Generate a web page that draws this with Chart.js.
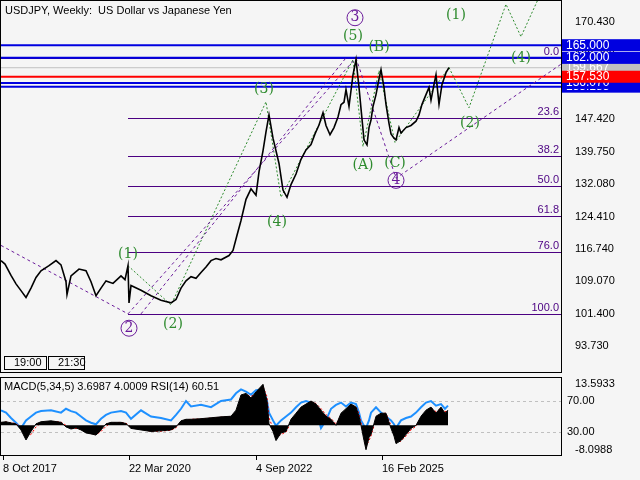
<!DOCTYPE html>
<html><head><meta charset="utf-8">
<script src="https://cdn.jsdelivr.net/npm/chart.js@4"></script>
<style>
html,body{margin:0;padding:0;background:#f5f5f5;width:640px;height:480px;overflow:hidden}
#c1{position:absolute;left:0;top:0}
#c2{position:absolute;left:0;top:374px}
</style></head><body>
<canvas id="c1" width="640" height="374"></canvas>
<canvas id="c2" width="640" height="106"></canvas>
<script>
// week index and weekly close (approx) of USDJPY
const weeks  = [0,4,10,15,20,25,30,35,40,48,55,60,65,66,70,78,85,90,95,100,105,112,120,124,127,128,130,140,150,160,170,175,180,185,190,195,200,205,210,215,220,228,232,236,240,245,250,255,258,262,265,268,272,278,282,286,290,295,300,305,310,314,318,322,325,329,333,337,340,343,345,348,352,355,358,360,363,366,368,370,372,375,378,380,383,385,388,390,393,395,398,400,405,410,415,418,421,425,428,430,433,435,438,441,445,448];
const closes = [114.0,113.2,110.5,108.5,106.9,105.3,107.5,110.0,111.6,112.8,114.0,113.0,109.0,106.0,110.4,112.0,111.6,109.0,105.7,107.5,109.2,108.6,110.4,109.5,112.8,104.0,108.1,107.0,105.7,104.6,104.0,104.8,107.5,109.2,110.2,109.8,111.2,112.5,114.0,114.5,114.2,115.2,116.4,120.0,123.5,128.5,131.0,129.5,135.0,140.0,144.5,148.5,143.0,137.0,130.7,129.0,132.0,134.5,138.0,140.2,141.5,144.0,146.1,149.0,146.0,143.8,145.5,148.0,150.9,151.5,154.5,150.5,158.0,161.6,155.0,150.0,142.6,141.4,145.5,147.3,150.5,153.3,157.0,159.2,155.0,151.0,146.5,144.0,143.0,142.6,145.5,144.2,145.5,146.0,147.0,148.5,151.0,153.3,155.0,152.0,155.7,158.0,151.0,155.7,158.5,159.7];
// projected path (green dotted)
const projWeeks = [448,468,505,520,545];
const projPrices = [159.7,150.2,174.7,167.0,180.0];
// levels
const levelPrices = [155.185,156.070,157.530,159.667,162.000,165.000];
const levelColors = ['#0000e0','#0000e0','#ff0000','#c0c0c0','#0000e0','#0000e0'];
const fibPct = ['0.0','23.6','38.2','50.0','61.8','76.0','100.0'];
const fibPrices = [162.0,147.7,138.85,131.7,124.55,116.0,101.4];
const yTicks = [170.43,162.76,155.09,147.42,139.75,132.08,124.41,116.74,109.07,101.4,93.73];
const dateLabels = ['8 Oct 2017','22 Mar 2020','4 Sep 2022','16 Feb 2025'];
const dateWeeks = [2,128,255,381];
// MACD / RSI
const oscWeeks = [0,5,10,15,20,25,30,35,40,50,60,65,70,75,80,85,90,95,100,105,110,120,125,130,140,150,160,170,175,180,185,190,200,210,220,230,235,240,245,250,255,262,266,268,272,275,280,285,290,295,300,305,310,315,320,325,330,335,340,345,350,355,358,360,363,365,368,370,375,380,385,390,393,395,400,405,410,415,420,425,430,435,440,444,447];
const macd = [1.0,1.2,0.8,0.5,-1.5,-4.8,-2.0,0.5,1.2,1.5,1.0,-0.5,-1.2,-0.8,-1.5,-2.5,-2.8,-3.2,-1.5,0.5,1.0,1.0,0.6,-1.0,-1.5,-2.0,-1.8,-1.5,-0.5,1.5,2.0,2.0,2.2,2.5,2.8,3.0,5.0,10.0,10.5,9.0,11.0,13.5,8.0,0.5,-2.0,-5.0,-2.5,-2.0,2.0,4.0,6.0,7.0,8.0,7.0,5.0,3.0,2.0,0.0,4.0,5.5,7.0,6.0,3.0,0.0,-5.0,-8.0,-4.0,-3.0,3.0,4.0,4.0,-1.0,-3.5,-6.0,-5.0,-3.0,-1.0,0.0,3.0,5.0,6.0,4.0,6.0,4.0,5.0];
const signal = [0.8,1.1,0.9,0.6,-0.8,-3.5,-3.0,-0.5,0.8,1.3,1.1,0.0,-1.0,-1.0,-1.3,-2.2,-2.7,-3.0,-2.0,-0.3,0.8,1.0,0.7,-0.5,-1.3,-1.9,-1.9,-1.6,-0.8,1.0,1.8,2.0,2.1,2.4,2.7,2.9,4.2,8.5,10.2,9.5,10.5,12.8,9.5,2.5,-1.0,-4.0,-3.0,-2.2,1.0,3.5,5.5,6.8,7.8,7.2,5.5,3.5,2.3,0.5,3.2,5.0,6.5,6.2,3.8,1.0,-3.5,-7.0,-5.0,-3.5,2.0,3.8,4.0,0.0,-2.8,-5.5,-5.2,-3.5,-1.5,-0.3,2.5,4.5,5.8,4.5,5.5,4.5,4.8];
const rsi = [58,55,48,42,35,45,50,55,57,58,55,60,57,55,50,45,42,40,47,52,55,57,55,47,58,50,48,45,52,60,70,63,65,62,70,72,80,85,82,78,84,85,70,55,45,38,45,50,55,62,68,70,68,60,35,45,60,65,68,63,68,66,55,45,38,35,45,55,62,55,50,45,40,35,45,48,50,55,62,68,70,64,66,60,64];

const waveMarks = [
 {t:'(1)',w:127,p:115.5,c:'#2e8b2e'},{t:'(2)',w:172,p:99.0,c:'#2e8b2e'},{t:'(3)',w:263,p:154.5,c:'#2e8b2e'},
 {t:'(4)',w:276,p:123.0,c:'#2e8b2e'},{t:'(5)',w:352,p:167.0,c:'#2e8b2e'},{t:'(A)',w:362,p:136.5,c:'#2e8b2e'},
 {t:'(B)',w:378,p:164.5,c:'#2e8b2e'},{t:'(C)',w:394,p:137.0,c:'#2e8b2e'},{t:'(1)',w:455,p:172.0,c:'#2e8b2e'},
 {t:'(2)',w:469,p:146.5,c:'#2e8b2e'},{t:'(4)',w:520,p:162.0,c:'#2e8b2e'},
 {t:'3',w:354,p:171.5,c:'#6a1b9a',circ:true},{t:'2',w:128,p:98.0,c:'#6a1b9a',circ:true},{t:'4',w:395,p:133.0,c:'#6a1b9a',circ:true}
];
const P = (ws,ps)=>ws.map((w,i)=>({x:w,y:ps[i]}));
const FONT = '11px "Liberation Sans", "DejaVu Sans", sans-serif';
const noPad = s=>{s.width=79;s.paddingTop=0;s.paddingBottom=0;};

const overlay = {
 id:'ov',
 beforeDatasetsDraw(ch){
  const {ctx,chartArea:a,scales:{x,y}}=ch;
  ctx.save();
  ctx.beginPath();ctx.rect(a.left,a.top,a.right-a.left,a.bottom-a.top);ctx.clip();
  fibPrices.forEach((p,i)=>{
   ctx.strokeStyle='#4b0082';ctx.lineWidth=1;ctx.beginPath();
   const x0 = i===0? a.left : x.getPixelForValue(127);
   const py=Math.round(y.getPixelForValue(p))+0.5;
   ctx.moveTo(x0,py);ctx.lineTo(a.right,py);ctx.stroke();
   ctx.fillStyle='#4b0082';ctx.font=FONT;ctx.textAlign='right';ctx.textBaseline='bottom';
   ctx.fillText(fibPct[i],a.right-2,py-1);
  });
  levelPrices.forEach((p,i)=>{
   ctx.strokeStyle=levelColors[i];ctx.lineWidth=i===3?1:2;ctx.beginPath();
   const py=y.getPixelForValue(p);ctx.moveTo(a.left,py);ctx.lineTo(a.right,py);ctx.stroke();
  });
  ctx.restore();
 },
 afterDatasetsDraw(ch){
  const {ctx,chartArea:a,scales:{x,y}}=ch;
  ctx.save();
  ctx.beginPath();ctx.rect(a.left,a.top,a.right-a.left,a.bottom-a.top);ctx.clip();
  ctx.font='14px "DejaVu Serif", serif';ctx.textAlign='center';ctx.textBaseline='middle';
  waveMarks.forEach(m=>{
   const px=x.getPixelForValue(m.w),py=y.getPixelForValue(m.p);
   if(m.circ){ctx.strokeStyle=m.c;ctx.lineWidth=1;ctx.beginPath();ctx.arc(px,py,8,0,Math.PI*2);ctx.stroke();}
   ctx.fillStyle=m.c;ctx.fillText(m.t,px,py);
  });
  ctx.restore();
  ctx.save();
  ctx.strokeStyle='#000';ctx.lineWidth=1;ctx.strokeRect(a.left-0.5,a.top+0.5,a.right-a.left+1,a.bottom-a.top-1);
  ctx.font=FONT;ctx.fillStyle='#000';ctx.textAlign='left';ctx.textBaseline='top';
  ctx.fillText('USDJPY, Weekly:  US Dollar vs Japanese Yen',5,5);
  ctx.strokeStyle='#000';ctx.strokeRect(4.5,356.5,42,13);ctx.strokeRect(48.5,356.5,36,13);
  ctx.fillText('19:00',14,357);ctx.fillText('21:30',58,357);
  const order=[0,1,3,2,5,4];
  ctx.font='12px "Liberation Sans", "DejaVu Sans", sans-serif';
  order.forEach(i=>{
   const p=levelPrices[i],py=y.getPixelForValue(p);
   ctx.fillStyle=levelColors[i];ctx.fillRect(a.right+1,py-6,78,12);
   ctx.fillStyle='#fff';ctx.textBaseline='middle';ctx.fillText(p.toFixed(3),a.right+5,py);
  });
  ctx.restore();
 }
};

new Chart(document.getElementById('c1'),{
 type:'line',
 data:{datasets:[
  {data:P(weeks,closes),borderColor:'#000',borderWidth:1.6,pointRadius:0,tension:0},
  {data:P(projWeeks,projPrices),borderColor:'#2e8b2e',borderWidth:1,borderDash:[2,2],pointRadius:0},
  {data:P([0,127],[117.6,101.4]),borderColor:'#6a1b9a',borderWidth:1,borderDash:[3,3],pointRadius:0},
  {data:P([127,355],[101.4,162.0]),borderColor:'#6a1b9a',borderWidth:1,borderDash:[3,3],pointRadius:0},
  {data:P([140,345],[101.4,162.0]),borderColor:'#6a1b9a',borderWidth:1,borderDash:[3,3],pointRadius:0},
  {data:P([355,395,560],[162.0,133.5,160.5]),borderColor:'#6a1b9a',borderWidth:1,borderDash:[3,3],pointRadius:0},
  {data:P([127,170,265,280,352,362,378,394,448],[112.8,103.5,151.6,129.0,161.6,141.0,159.0,142.0,159.7]),borderColor:'#2e8b2e',borderWidth:1,borderDash:[2,2],pointRadius:0}
 ]},
 options:{animation:false,responsive:false,
  layout:{padding:{left:1,top:0,bottom:1,right:0}},
  plugins:{legend:{display:false},tooltip:{enabled:false}},
  scales:{
   x:{type:'linear',min:0,max:560,display:false},
   y:{position:'right',min:87.4,max:175.7,
    afterFit:noPad,
    afterBuildTicks(s){s.ticks=yTicks.map(v=>({value:v}));},
    grid:{display:false},border:{display:false},
    ticks:{color:'#000',font:{family:'Liberation Sans',size:11},padding:6,callback:v=>v.toFixed(3)}}
  }},
 plugins:[overlay]
});

const ov2={id:'ov2',
 beforeDatasetsDraw(ch){
  const {ctx,chartArea:a,scales:{y2}}=ch;
  ctx.save();ctx.strokeStyle='#c0c0c0';ctx.setLineDash([3,3]);ctx.lineWidth=1;
  [70,30].forEach(v=>{const py=Math.round(y2.getPixelForValue(v))+0.5;ctx.beginPath();ctx.moveTo(a.left,py);ctx.lineTo(a.right,py);ctx.stroke();});
  ctx.restore();
 },
 afterDatasetsDraw(ch){
  const {ctx,chartArea:a,scales:{y2}}=ch;
  ctx.save();ctx.strokeStyle='#000';ctx.lineWidth=1;ctx.strokeRect(a.left-0.5,a.top+0.5,a.right-a.left+1,a.bottom-a.top);
  ctx.font=FONT;ctx.fillStyle='#000';ctx.textBaseline='middle';ctx.textAlign='left';
  [70,30].forEach(v=>ctx.fillText(v.toFixed(2),a.right+6,y2.getPixelForValue(v)));
  ctx.textBaseline='top';ctx.fillText('MACD(5,34,5) 3.6987 4.0009 RSI(14) 60.51',4,a.top+4);
  ctx.restore();
 }};

new Chart(document.getElementById('c2'),{
 type:'line',
 data:{datasets:[
  {data:P(oscWeeks,macd),yAxisID:'y',borderColor:'#000',backgroundColor:'#000',fill:'origin',borderWidth:1,pointRadius:0},
  {data:P(oscWeeks,signal),yAxisID:'y',borderColor:'#ff0000',borderWidth:1,borderDash:[2,2],pointRadius:0},
  {data:P(oscWeeks,rsi),yAxisID:'y2',borderColor:'#1e90ff',borderWidth:2,pointRadius:0}
 ]},
 options:{animation:false,responsive:false,
  layout:{padding:{left:1,top:3,bottom:0,right:0}},
  plugins:{legend:{display:false},tooltip:{enabled:false}},
  scales:{
   x:{type:'linear',min:0,max:560,
    afterBuildTicks(s){s.ticks=dateWeeks.map(v=>({value:v}));},
    afterFit(s){s.height=25;},
    grid:{display:true,drawOnChartArea:false,tickLength:5,color:'#000'},border:{display:false},
    ticks:{color:'#000',font:{family:'Liberation Sans',size:11},maxRotation:0,autoSkip:false,align:'start',padding:2,
     callback:(v)=>dateLabels[dateWeeks.indexOf(v)]}},
   y:{position:'right',min:-9.74,max:15.9,
    afterFit:noPad,
    afterBuildTicks(s){s.ticks=[{value:13.5933},{value:-8.0988}];},
    grid:{display:false},border:{display:false},
    ticks:{color:'#000',font:{family:'Liberation Sans',size:11},padding:6,callback:v=>v.toFixed(4)}},
   y2:{display:false,min:0.3,max:101}
  }},
 plugins:[ov2]
});
</script></body></html>
